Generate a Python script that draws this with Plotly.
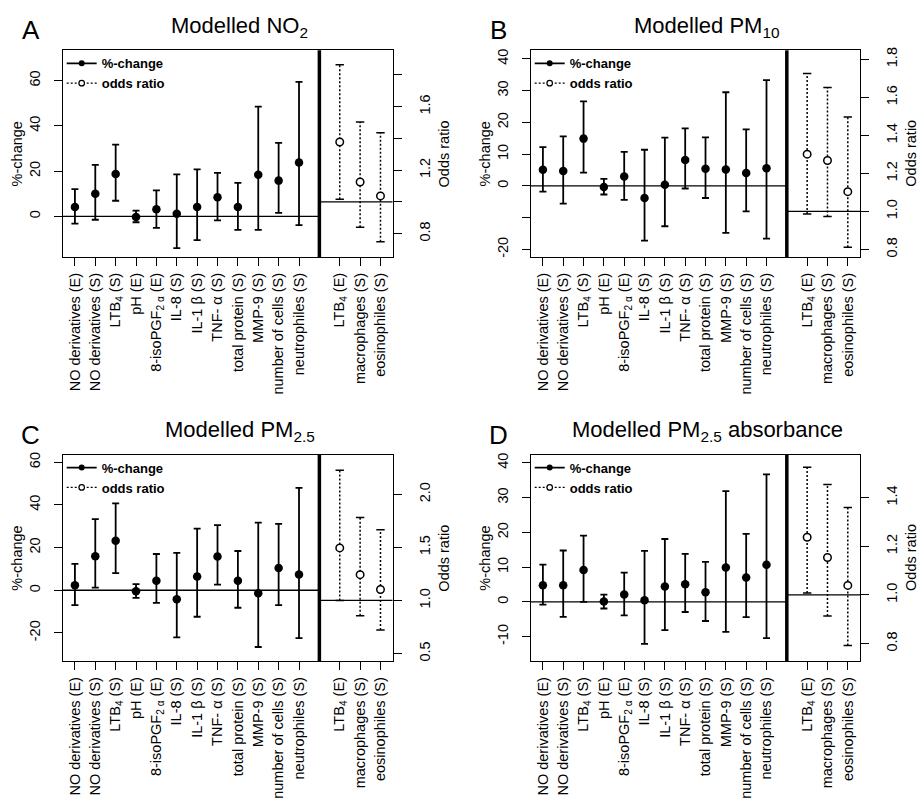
import plotly.graph_objects as go

# ---------------- data ----------------
left_labels = ["NO derivatives (E)", "NO derivatives (S)", "LTB<sub>4</sub> (S)", "pH (E)",
               "8-isoPGF<sub>2 α</sub> (E)", "IL-8 (S)", "IL-1 β (S)", "TNF- α (S)",
               "total protein (S)", "MMP-9 (S)", "number of cells (S)", "neutrophiles (S)"]
right_labels = ["LTB<sub>4</sub> (E)", "macrophages (S)", "eosinophiles (S)"]

panel_letters = ["A", "B", "C", "D"]
panel_titles = ["Modelled NO<sub>2</sub>", "Modelled PM<sub>10</sub>",
                "Modelled PM<sub>2.5</sub>", "Modelled PM<sub>2.5</sub> absorbance"]
left_axis_title = "%-change"
right_axis_title = "Odds ratio"

# Panel A
a_pc_est = [4.1, 10.0, 18.7, -0.3, 3.1, 1.2, 4.1, 8.5, 4.1, 18.4, 15.8, 23.8]
a_pc_lo = [-3.2, -1.5, 6.9, -2.6, -5.1, -14.0, -10.5, -1.8, -6.0, -6.0, 1.5, -3.9]
a_pc_hi = [12.0, 22.8, 31.7, 2.5, 11.5, 18.6, 20.8, 19.2, 14.8, 48.5, 32.5, 59.5]
a_or_est = [1.377, 1.125, 1.037]
a_or_lo = [1.016, 0.840, 0.748]
a_or_hi = [1.864, 1.502, 1.435]

# Panel B
b_pc_est = [5.1, 4.7, 14.9, -0.3, 3.0, -3.8, 0.4, 8.2, 5.4, 5.2, 4.1, 5.6]
b_pc_lo = [-1.8, -5.6, 4.2, -2.7, -4.4, -17.2, -12.7, -0.8, -3.8, -14.8, -8.0, -16.6]
b_pc_hi = [12.2, 15.6, 26.6, 2.2, 10.7, 11.4, 15.2, 18.1, 15.3, 29.5, 17.8, 33.3]
b_or_est = [1.301, 1.268, 1.104]
b_or_lo = [0.986, 0.974, 0.812]
b_or_hi = [1.725, 1.652, 1.496]

# Panel C
c_pc_est = [2.3, 15.9, 23.2, -0.5, 4.5, -4.2, 6.5, 15.8, 4.5, -1.4, 10.4, 7.4]
c_pc_lo = [-7.0, 1.2, 8.0, -3.6, -5.9, -22.1, -12.4, 2.6, -8.2, -26.6, -7.0, -22.4]
c_pc_hi = [12.4, 33.3, 40.7, 2.9, 17.0, 17.5, 28.9, 30.5, 18.4, 31.7, 31.1, 48.0]
c_or_est = [1.495, 1.243, 1.103]
c_or_lo = [1.000, 0.857, 0.723]
c_or_hi = [2.227, 1.782, 1.667]

# Panel D
d_pc_est = [4.8, 4.8, 9.2, 0.1, 2.1, 0.5, 4.4, 5.1, 2.8, 9.9, 7.0, 10.7]
d_pc_lo = [-0.8, -4.3, 0.0, -1.9, -3.9, -12.1, -8.1, -2.9, -5.5, -8.6, -4.4, -10.4]
d_pc_hi = [10.7, 14.8, 19.1, 2.1, 8.4, 14.7, 18.1, 13.8, 11.5, 31.9, 19.6, 36.7]
d_or_est = [1.237, 1.154, 1.039]
d_or_lo = [1.008, 0.913, 0.792]
d_or_hi = [1.525, 1.454, 1.359]

# axis ticks and ranges
left_ticks = [[0, 20, 40, 60], [-20, -10, 0, 10, 20, 30, 40],
              [-20, 0, 20, 40, 60], [-10, 0, 10, 20, 30, 40]]
left_ticktext = [["0", "20", "40", "60"], ["-20", "", "0", "10", "20", "30", "40"],
                 ["-20", "0", "20", "40", "60"], ["-10", "0", "10", "20", "30", "40"]]
left_ranges = [[-18.0, 73.4], [-22.4, 42.7], [-33.3, 63.6], [-17.1, 42.4]]
right_ticks = [[0.8, 1.0, 1.2, 1.4, 1.6, 1.8], [0.8, 1.0, 1.2, 1.4, 1.6, 1.8],
               [0.5, 1.0, 1.5, 2.0], [0.8, 1.0, 1.2, 1.4]]
right_ticktext = [["0.8", "", "1.2", "", "1.6", ""], ["0.8", "1.0", "1.2", "1.4", "1.6", "1.8"],
                  ["0.5", "1.0", "1.5", "2.0"], ["0.8", "1.0", "1.2", "1.4"]]
right_ranges = [[0.652, 1.954], [0.760, 1.847], [0.427, 2.374], [0.727, 1.577]]

panels = [
    (a_pc_est, a_pc_lo, a_pc_hi, a_or_est, a_or_lo, a_or_hi),
    (b_pc_est, b_pc_lo, b_pc_hi, b_or_est, b_or_lo, b_or_hi),
    (c_pc_est, c_pc_lo, c_pc_hi, c_or_est, c_or_lo, c_or_hi),
    (d_pc_est, d_pc_lo, d_pc_hi, d_or_est, d_or_lo, d_or_hi),
]

# ---------------- layout geometry ----------------
W, H = 921, 799
FONT = "Liberation Sans, Arial, Helvetica, sans-serif"
TICKFONT = dict(family=FONT, size=14.5, color="black")
TITLEFONT = dict(family=FONT, size=14.5, color="black")

left_pos = list(range(1, len(left_labels) + 1))
divider = len(left_labels) + 1
right_pos = [divider + 1 + i for i in range(len(right_labels))]
all_pos = left_pos + right_pos
all_labels = left_labels + right_labels
x_range = [0.4, right_pos[-1] + 0.6]

x_domains = [[62.7 / W, 392.7 / W], [530.7 / W, 860.0 / W]] * 2
y_top = [[1 - 256.0 / H, 1 - 47.7 / H]] * 2 + [[1 - 663.3 / H, 1 - 455.0 / H]] * 2

fig = go.Figure()
layout = dict(width=W, height=H, margin=dict(l=0, r=0, t=0, b=0),
              paper_bgcolor="white", plot_bgcolor="white", showlegend=True,
              font=dict(family=FONT, color="black"))
shapes = []
annotations = []


def ax_name(kind, n):
    return kind if n == 1 else f"{kind}{n}"


for i, (pc_est, pc_lo, pc_hi, or_est, or_lo, or_hi) in enumerate(panels):
    xn = i + 1
    yl = 2 * i + 1
    yr = 2 * i + 2
    xref = ax_name("x", xn)
    ylref = ax_name("y", yl)
    yrref = ax_name("y", yr)
    leg = "legend" if i == 0 else f"legend{i + 1}"

    # %-change points with solid error bars
    fig.add_trace(go.Scatter(
        x=left_pos, y=pc_est, mode="markers", xaxis=xref, yaxis=ylref,
        marker=dict(color="black", size=8.5, symbol="circle"),
        error_y=dict(type="data", symmetric=False,
                     array=[h - e for h, e in zip(pc_hi, pc_est)],
                     arrayminus=[e - l for e, l in zip(pc_est, pc_lo)],
                     color="black", thickness=1.8, width=3.5),
        showlegend=False, hoverinfo="skip"))

    # odds ratio dotted intervals
    seg_x, seg_y = [], []
    for p, lo, hi in zip(right_pos, or_lo, or_hi):
        seg_x += [p, p, None]
        seg_y += [lo, hi, None]
    fig.add_trace(go.Scatter(
        x=seg_x, y=seg_y, mode="lines", xaxis=xref, yaxis=yrref,
        line=dict(color="black", width=1.5, dash="2px,2px"),
        showlegend=False, hoverinfo="skip"))
    fig.add_trace(go.Scatter(
        x=right_pos + right_pos, y=or_lo + or_hi, mode="markers", xaxis=xref, yaxis=yrref,
        marker=dict(symbol="line-ew", size=6, line=dict(color="black", width=1.5)),
        showlegend=False, hoverinfo="skip"))
    fig.add_trace(go.Scatter(
        x=right_pos, y=or_est, mode="markers", xaxis=xref, yaxis=yrref,
        marker=dict(symbol="circle", size=7.5, color="white", line=dict(color="black", width=1.5)),
        showlegend=False, hoverinfo="skip"))

    # legend-only entries
    fig.add_trace(go.Scatter(
        x=[None], y=[None], mode="lines+markers", name="%-change", xaxis=xref, yaxis=ylref,
        line=dict(color="black", width=1.8), marker=dict(color="black", size=6),
        legend=leg, showlegend=True))
    fig.add_trace(go.Scatter(
        x=[None], y=[None], mode="lines+markers", name="odds ratio", xaxis=xref, yaxis=ylref,
        line=dict(color="black", width=1.3, dash="2px,2px"),
        marker=dict(color="white", size=5.5, symbol="circle", line=dict(color="black", width=1.2)),
        legend=leg, showlegend=True))

    layout[leg] = dict(x=x_domains[i][0] - 1 / W, y=y_top[i][1] + 2 / H, xanchor="left", yanchor="top",
                       bgcolor="rgba(0,0,0,0)", borderwidth=0, itemwidth=30,
                       font=dict(family=FONT, size=13, color="black", weight="bold"),
                       tracegroupgap=0, itemclick=False, itemdoubleclick=False)

    layout[ax_name("xaxis", xn)] = dict(
        domain=x_domains[i], range=x_range, anchor=ylref,
        tickmode="array", tickvals=all_pos, ticktext=all_labels, tickangle=-90,
        ticks="outside", ticklen=8, tickwidth=1, tickcolor="black",
        showline=True, linecolor="black", linewidth=1, mirror=True,
        showgrid=False, zeroline=False, tickfont=TICKFONT, ticklabelstandoff=1)
    layout[ax_name("yaxis", yl)] = dict(
        domain=y_top[i], range=left_ranges[i], anchor=xref,
        tickmode="array", tickvals=left_ticks[i], ticktext=left_ticktext[i], tickangle=-90,
        ticks="outside", ticklen=8, tickwidth=1, tickcolor="black",
        showline=True, linecolor="black", linewidth=1,
        showgrid=False, zeroline=False, tickfont=TICKFONT, ticklabelstandoff=8)
    layout[ax_name("yaxis", yr)] = dict(
        overlaying=ylref, side="right", range=right_ranges[i], anchor=xref,
        tickmode="array", tickvals=right_ticks[i], ticktext=right_ticktext[i], tickangle=-90,
        ticks="outside", ticklen=8, tickwidth=1, tickcolor="black",
        showline=True, linecolor="black", linewidth=1,
        showgrid=False, zeroline=False, tickfont=TICKFONT, ticklabelstandoff=11)

    # reference lines and divider
    shapes.append(dict(type="line", xref=xref, yref=ylref, x0=x_range[0], x1=divider, y0=0, y1=0,
                       line=dict(color="black", width=1.3)))
    shapes.append(dict(type="line", xref=xref, yref=yrref, x0=divider, x1=x_range[1], y0=1, y1=1,
                       line=dict(color="black", width=1.3)))
    shapes.append(dict(type="line", xref=xref, yref=ylref + " domain", x0=divider, x1=divider, y0=0, y1=1,
                       line=dict(color="black", width=3.5)))

    # axis titles as rotated annotations
    ymid = (y_top[i][0] + y_top[i][1]) / 2
    annotations.append(dict(text=left_axis_title, x=x_domains[i][0] - 46 / W, y=ymid,
                            xref="paper", yref="paper", xanchor="center", yanchor="middle",
                            textangle=-90, showarrow=False, font=TITLEFONT))
    annotations.append(dict(text=right_axis_title, x=x_domains[i][1] + 51 / W, y=ymid,
                            xref="paper", yref="paper", xanchor="center", yanchor="middle",
                            textangle=-90, showarrow=False, font=TITLEFONT))

    # letter and title
    cx = (x_domains[i][0] + x_domains[i][1]) / 2 + 12 / W
    annotations.append(dict(text=panel_titles[i], x=cx, y=y_top[i][1] + 24 / H,
                            xref="paper", yref="paper", xanchor="center", yanchor="middle",
                            showarrow=False, font=dict(family=FONT, size=22, color="black")))
    annotations.append(dict(text=panel_letters[i], x=x_domains[i][0] - 32 / W, y=y_top[i][1] + 20 / H,
                            xref="paper", yref="paper", xanchor="center", yanchor="middle",
                            showarrow=False, font=dict(family=FONT, size=26, color="black")))

layout["shapes"] = shapes
layout["annotations"] = annotations
fig.update_layout(**layout)
fig.write_html("out.html", config={"displayModeBar": False},
               post_script="document.body.style.margin='0px';")
